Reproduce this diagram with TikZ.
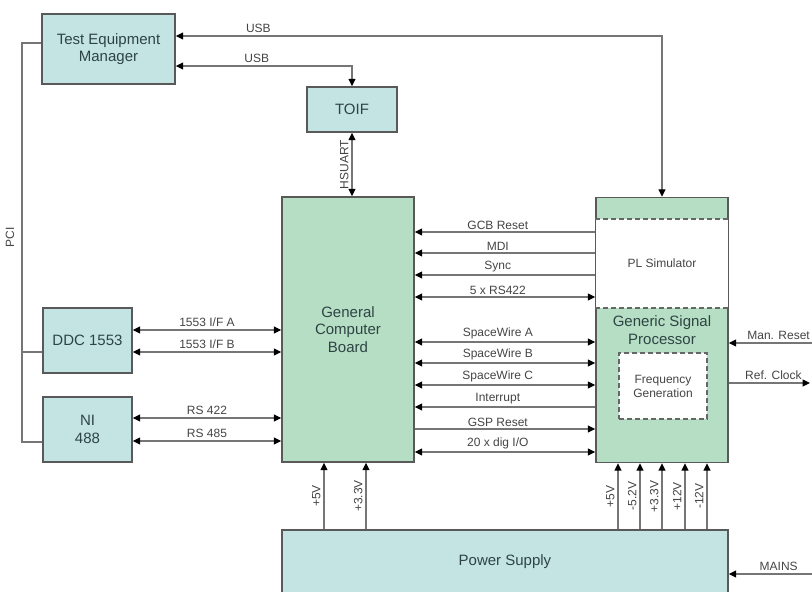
\documentclass[tikz,border=0pt]{standalone}
\usepackage{fontspec}
\setmainfont{Liberation Sans}
\usetikzlibrary{arrows.meta}
\definecolor{unitfill}{HTML}{C4E4E4}
\definecolor{boardfill}{HTML}{B6DEC4}
\definecolor{linegray}{HTML}{767676}
\definecolor{textdark}{HTML}{2E4444}
\definecolor{textgray}{HTML}{454545}

\begin{document}
\begin{tikzpicture}[x=1pt, y=-1pt,
  unit/.style={rectangle, draw=black!65, line width=1.4pt, fill=unitfill, align=center,
               font=\fontsize{15}{17.5}\selectfont, text=textdark},
  board/.style={unit, fill=boardfill},
  link/.style={draw=linegray, line width=1.2pt},
  sig/.style={link, >={Triangle[length=7.5pt, width=7pt, color=black]}},
  tag/.style={font=\fontsize{12}{14}\selectfont, text=textgray, inner sep=1pt},
  vtag/.style={tag, rotate=90, anchor=south, inner sep=3pt},
  dashbox/.style={draw=black!60, dashed, dash pattern=on 5pt off 3pt, line width=1.1pt},
]

\clip (0,0) rectangle (812,592);
\fill[white] (0,0) rectangle (812,592);

\node[unit, minimum width=133pt, minimum height=70pt] (tem) at (108.5,49) {Test Equipment\\Manager};
\node[unit, minimum width=90pt, minimum height=45pt] (toif) at (352,109.5) {TOIF};
\node[unit, minimum width=89pt, minimum height=65pt] (ddc) at (87.5,340.5) {DDC 1553};
\node[unit, minimum width=89pt, minimum height=65pt] (ni) at (87.5,429.5) {NI\\488};
\node[board, minimum width=132pt, minimum height=265pt] (gcb) at (348,329.5) {General\\Computer\\Board};
\node[board, minimum width=132pt, minimum height=265pt] (gsp) at (662,330) {Generic Signal\\Processor};
\node[unit, minimum width=446pt, minimum height=80pt] (ps) at (505,570) {};
\node[font=\fontsize{15}{17.5}\selectfont, text=textdark] (pstext) at (505,562) {Power Supply};

\fill[white] ([xshift=0.7pt]gsp.west |- 0,219) rectangle ([xshift=-0.7pt]gsp.east |- 0,308);
\draw[dashbox] (gsp.west |- 0,219) -- (gsp.east |- 0,219);
\draw[dashbox] (gsp.west |- 0,308) -- (gsp.east |- 0,308);
\node[tag] (plsim) at (662,263) {PL Simulator};
\node[dashbox, fill=white, minimum width=88pt, minimum height=66pt, align=center, tag] (freq) at (663,386)
  {Frequency\\Generation};

\coordinate (manrst) at (812,343);
\coordinate (refclk) at (810,383);
\coordinate (mains) at (812,574);

\draw[sig, <->] (tem.east |- 0,36) -- node[tag, above=2pt, pos=0.17] {USB} (662,36) -- (gsp.north -| 662,0);
\draw[sig, <->] (tem.east |- 0,66) -- node[tag, above=2pt, pos=0.46] {USB} (toif.north |- 0,66) -- (toif.north);
\draw[sig, <->] (toif.south) -- node[vtag, pos=0.5] {HSUART} (toif.south |- gcb.north);

\draw[link] (tem.west |- 0,43) -- (22,43) |- (ni.west |- 0,442);
\draw[link] (ddc.west |- 0,352) -- (22,352);
\node[tag, rotate=90] (pci) at (10,237) {PCI};

\draw[sig, <->] (ddc.east |- 0,330) -- node[tag, above=2pt] {1553 I/F A} (gcb.west |- 0,330);
\draw[sig, <->] (ddc.east |- 0,352) -- node[tag, above=2pt] {1553 I/F B} (gcb.west |- 0,352);
\draw[sig, <->] (ni.east |- 0,418) -- node[tag, above=2pt] {RS 422} (gcb.west |- 0,418);
\draw[sig, <->] (ni.east |- 0,441) -- node[tag, above=2pt] {RS 485} (gcb.west |- 0,441);

\draw[sig, <-] (gcb.east |- 0,232) -- node[tag, above=1pt, pos=0.46] {GCB Reset} (gsp.west |- 0,232);
\draw[sig, <-] (gcb.east |- 0,253) -- node[tag, above=1pt, pos=0.46] {MDI} (gsp.west |- 0,253);
\draw[sig, <-] (gcb.east |- 0,275) -- node[tag, above=1pt, pos=0.46] {Sync} (gsp.west |- 0,275);
\draw[sig, <->] (gcb.east |- 0,297) -- node[tag, above=1pt, pos=0.46] {5 x RS422} (gsp.west |- 0,297);
\draw[sig, <->] (gcb.east |- 0,342) -- node[tag, above=1pt, pos=0.46] {SpaceWire A} (gsp.west |- 0,342);
\draw[sig, <->] (gcb.east |- 0,363) -- node[tag, above=1pt, pos=0.46] {SpaceWire B} (gsp.west |- 0,363);
\draw[sig, <->] (gcb.east |- 0,385) -- node[tag, above=1pt, pos=0.46] {SpaceWire C} (gsp.west |- 0,385);
\draw[sig, <-] (gcb.east |- 0,407) -- node[tag, above=1pt, pos=0.46] {Interrupt} (gsp.west |- 0,407);
\draw[sig, ->] (gcb.east |- 0,429) -- node[tag, above=1pt, pos=0.46] {GSP Reset} (gsp.west |- 0,429);
\draw[sig, <->] (gcb.east |- 0,452) -- node[tag, above=1pt, pos=0.46] {20 x dig I/O} (gsp.west |- 0,452);

\draw[sig, ->] (manrst) -- (gsp.east |- manrst);
\node[tag, anchor=south east] (manrsttext) at (811,341) {Man. Reset};
\draw[sig, ->] (gsp.east |- refclk) -- node[tag, above=2pt, pos=0.55] {Ref. Clock} (refclk);
\draw[sig, ->] (mains) -- node[tag, above=2pt, pos=0.4] {MAINS} (ps.east |- mains);

\draw[sig, ->] (ps.north -| 324,0) -- node[vtag] {+5V} (gcb.south -| 324,0);
\draw[sig, ->] (ps.north -| 366,0) -- node[vtag] {+3.3V} (gcb.south -| 366,0);
\draw[sig, ->] (ps.north -| 618,0) -- node[vtag] {+5V} (gsp.south -| 618,0);
\draw[sig, ->] (ps.north -| 640,0) -- node[vtag] {-5.2V} (gsp.south -| 640,0);
\draw[sig, ->] (ps.north -| 662,0) -- node[vtag] {+3.3V} (gsp.south -| 662,0);
\draw[sig, ->] (ps.north -| 685,0) -- node[vtag] {+12V} (gsp.south -| 685,0);
\draw[sig, ->] (ps.north -| 707,0) -- node[vtag] {-12V} (gsp.south -| 707,0);

\end{tikzpicture}
\end{document}
